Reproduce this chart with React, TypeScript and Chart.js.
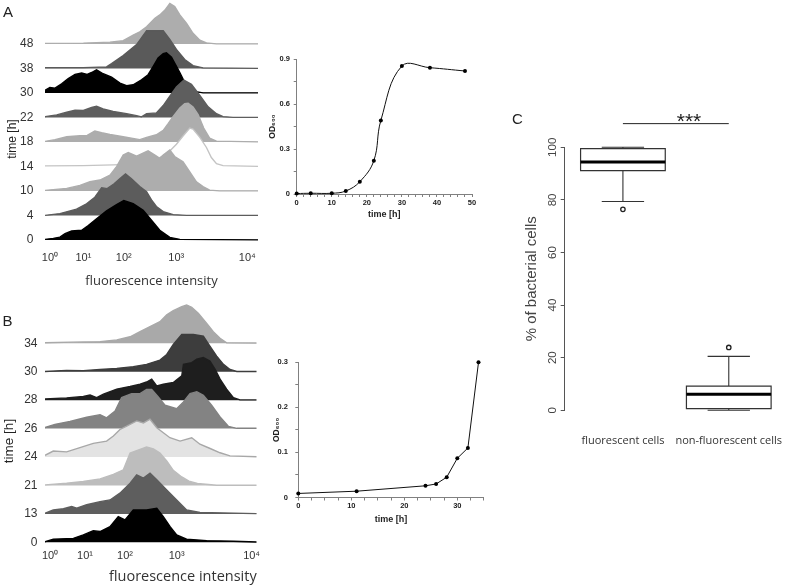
import React, { useEffect, useRef } from 'react';
import { Chart, registerables } from 'chart.js';

Chart.register(...registerables);

const SANS = "'Liberation Sans', Arial, sans-serif";
const NARROW = "'Liberation Sans Narrow', 'Liberation Sans', Arial, sans-serif";
const UI = "'Open Sans', 'Liberation Sans', sans-serif";

// ---------------- Panel A : fluorescence histograms (channel 0-100, height in row units) ----------------
const A_TIMES = ['0', '4', '10', '14', '18', '22', '30', '38', '48'];
const A_T0 = [[0,0.03],[3.9,0.07],[7.0,0.12],[9.4,0.26],[12.5,0.37],[17.2,0.40],[20.3,0.59],[24.2,0.87],[28.9,1.19],[33.6,1.45],[37.0,1.62],[41.4,1.49],[46.1,1.22],[50,0.81],[53.9,0.40],[58.6,0.11],[63.3,0.03],[100,0.01]];
const A_T4 = [[0,0.01],[7.0,0.08],[14.8,0.26],[19.5,0.48],[23.4,0.75],[26.6,1.14],[29.2,1.1],[32.3,1.29],[35.5,1.53],[37.8,1.70],[40.6,1.50],[44.5,1.19],[47.7,0.97],[50,0.64],[52.3,0.37],[55.5,0.16],[60.2,0.04],[66.4,0.01],[100,0.01]];
const A_T10 = [[0,0.03],[10.2,0.11],[16.4,0.23],[21.1,0.38],[25.8,0.45],[30.5,0.65],[33.6,1.0],[36.7,1.47],[39.1,1.57],[43,1.43],[48.4,1.64],[51.6,1.47],[53.9,1.34],[55.5,1.47],[58.6,1.68],[60.9,1.41],[64.8,1.2],[67.9,0.79],[71.1,0.38],[74.2,0.18],[77.3,0.04],[82,0.01],[100,0.01]];
const A_T14 = [[0,0.03],[18,0.04],[32,0.07],[41.4,0.1],[50.8,0.23],[55.5,0.44],[58.6,0.64],[61.7,0.91],[64.8,1.25],[68,1.57],[69.5,1.53],[72.7,1.19],[75.8,0.78],[78.1,0.37],[80.5,0.12],[83.6,0.04],[100,0.01]];
const A_T18 = [[0,0.03],[4.7,0.1],[10.2,0.22],[16.4,0.26],[19.8,0.27],[23.4,0.45],[26.6,0.38],[30.5,0.31],[36.7,0.22],[44.5,0.1],[47.7,0.19],[52.3,0.3],[55.5,0.48],[57.8,0.75],[60.2,1.05],[63.3,1.39],[65.6,1.57],[67.2,1.59],[69.5,1.43],[71.9,1.12],[74.5,0.57],[77.3,0.16],[80.5,0.04],[100,0.01]];
const A_T22 = [[0,0.04],[5.5,0.11],[10.2,0.22],[14.1,0.3],[18,0.29],[21.9,0.41],[24.2,0.46],[27.3,0.35],[32,0.25],[38.3,0.16],[43,0.08],[45.3,0.03],[47.7,0.16],[52.3,0.19],[55.5,0.49],[58.6,0.87],[61.7,1.25],[65.2,1.53],[68.75,1.36],[72.7,0.9],[76.6,0.44],[80.5,0.16],[83.6,0.04],[88.3,0.01],[100,0.01]];
const A_T30 = [[0,0.11],[2.3,0.23],[4.7,0.2],[7.8,0.38],[10.9,0.59],[14.1,0.76],[17.2,0.82],[19.8,0.76],[21.9,0.84],[24.2,0.95],[27.3,0.79],[31.25,0.65],[35.2,0.41],[38.3,0.3],[41.4,0.34],[45.3,0.54],[48.4,0.75],[50.8,1.09],[53.1,1.43],[55.5,1.61],[57,1.65],[59.4,1.47],[63.3,0.84],[66.4,0.3],[69.5,0.08],[74.2,0.01],[100,0.01]];
const A_T38 = [[0,0.04],[18,0.04],[28.9,0.07],[31.25,0.2],[36.7,0.53],[43,0.98],[47.7,1.55],[55.5,1.55],[58.6,1.19],[61.7,0.78],[65.6,0.37],[69.5,0.12],[74.2,0.03],[100,0.01]];
const A_T48 = [[0,0.03],[18,0.04],[30.5,0.08],[36.7,0.14],[41.4,0.37],[44.5,0.5],[47.7,0.71],[51.6,1.05],[53.9,1.19],[56.3,1.39],[58.6,1.66],[60.9,1.53],[63.3,1.19],[66.4,0.85],[69.5,0.44],[72.7,0.16],[75.8,0.05],[80.5,0.01],[100,0.01]];
const A_ROWS = [A_T0, A_T4, A_T10, A_T14, A_T18, A_T22, A_T30, A_T38, A_T48];
const A_FILL = ['#000000', '#5c5c5c', '#adadad', '#ffffff', '#adadad', '#5e5e5e', '#000000', '#5a5a5a', '#adadad'];
const A_LINE = ['#000000', '#5c5c5c', '#adadad', '#c4c4c4', '#adadad', '#5e5e5e', '#000000', '#5a5a5a', '#adadad'];

// ---------------- Panel B : fluorescence histograms ----------------
const B_TIMES = ['0', '13', '21', '24', '26', '28', '30', '34'];
const B_T0 = [[0,0.02],[3.9,0.11],[13.4,0.14],[18.1,0.26],[22.8,0.41],[26,0.38],[30.7,0.55],[34.6,0.9],[37.8,0.79],[41.7,1.14],[48,1.14],[52.8,1.2],[55.9,0.9],[59.1,0.55],[62.2,0.26],[66.9,0.11],[76.4,0.06],[89,0.04],[100,0.01]];
const B_T13 = [[0,0.02],[3.9,0.14],[8.7,0.18],[12.6,0.26],[15,0.2],[19.7,0.32],[26,0.43],[30.7,0.49],[35.4,0.73],[40.2,1.08],[43.3,1.37],[46.5,1.26],[49.6,1.43],[52.8,1.2],[57.5,0.84],[62.2,0.49],[66.9,0.14],[73.2,0.05],[100,0.01]];
const B_T21 = [[0,0.02],[10.2,0.08],[18.1,0.14],[26,0.23],[32.3,0.39],[37,0.55],[40.2,1.14],[44.9,1.27],[48,1.35],[51.2,1.29],[54.3,1.14],[57.5,0.86],[60.6,0.53],[64.6,0.3],[68,0.15],[72,0.07],[81.1,0.01],[100,0.01]];
const B_T24 = [[0,0.06],[3.9,0.21],[10.2,0.18],[16.5,0.33],[22.8,0.48],[29.1,0.56],[32.3,0.74],[35.4,0.97],[38.6,1.09],[43.3,1.27],[46.5,1.2],[49.6,1.33],[52.8,1.03],[59,0.68],[63.8,0.56],[69.3,0.68],[73.2,0.45],[78,0.3],[82.7,0.15],[87.4,0.04],[100,0.01]];
const B_T26 = [[0,0.04],[4.7,0.15],[11.8,0.25],[19.7,0.40],[26,0.49],[29.1,0.38],[33.1,0.62],[36.2,1.09],[40.9,1.23],[44.9,1.23],[48,1.38],[50.4,1.38],[53.5,1.11],[56.7,0.82],[62.2,0.7],[65.4,0.94],[68.5,1.23],[71.7,1.30],[74.8,1.17],[78.7,0.82],[82.7,0.41],[86.6,0.08],[90.6,0.01],[100,0.01]];
const B_T28 = [[0,0.04],[10.2,0.08],[18.1,0.13],[21.3,0.18],[24.4,0.09],[27.6,0.21],[33.9,0.39],[40.2,0.48],[44.9,0.56],[48,0.64],[50.4,0.74],[52.8,0.5],[55.9,0.56],[60.6,0.62],[64.6,0.86],[65.4,1.26],[69.3,1.32],[71.7,1.44],[74.8,1.5],[77.9,1.38],[80.3,1.09],[82.7,0.74],[85.8,0.39],[89,0.09],[92.1,0.01],[100,0.01]];
const B_T30 = [[0,0.01],[10.2,0.05],[18.1,0.04],[26,0.08],[33.9,0.12],[41.7,0.18],[48,0.26],[54.3,0.41],[57.5,0.61],[60.6,0.96],[64.6,1.31],[70.1,1.31],[74.8,1.25],[77.9,0.9],[81.1,0.55],[84.3,0.26],[87.4,0.08],[90.6,0.01],[100,0.01]];
const B_T34 = [[0,0.02],[18.1,0.05],[26,0.06],[33.9,0.12],[40.2,0.23],[44.9,0.41],[49.6,0.59],[54.3,0.76],[57.5,1],[60.6,1.15],[64.6,1.29],[66.9,1.35],[69.3,1.27],[72.4,1.06],[76.4,0.7],[79.5,0.41],[82.7,0.18],[85.8,0.02],[100,0.01]];
const B_ROWS = [B_T0, B_T13, B_T21, B_T24, B_T26, B_T28, B_T30, B_T34];
const B_FILL = ['#000000', '#5e5e5e', '#bdbdbd', '#e3e3e3', '#838383', '#1e1e1e', '#3d3d3d', '#a9a9a9'];
const B_LINE = ['#000000', '#5e5e5e', '#bdbdbd', '#a8a8a8', '#838383', '#1e1e1e', '#3d3d3d', '#a9a9a9'];

const X_TICK_LABELS = ['10\u2070', '10\u00B9', '10\u00B2', '10\u00B3', '10\u2074'];
const A_X_TICK_POS = [2.3, 18, 37, 61.6, 95];
const B_X_TICK_POS = [2.4, 18.9, 37.8, 62.2, 97.6];

// ---------------- Growth curves ----------------
const GA_TIME = [0, 4, 10, 14, 18, 22, 24, 30, 38, 48];
const GA_OD = [0.003, 0.005, 0.005, 0.02, 0.082, 0.222, 0.49, 0.853, 0.842, 0.82];
const GB_TIME = [0, 11, 24, 26, 28, 30, 32, 34];
const GB_OD = [0.009, 0.014, 0.026, 0.03, 0.045, 0.087, 0.11, 0.3];
const GA_XTICKS = Array.from({ length: 26 }, (_, i) => i * 2);
const GA_YTICKS = [0, 0.15, 0.3, 0.45, 0.6, 0.75, 0.9];
const GB_XTICKS = Array.from({ length: 15 }, (_, i) => i * 2.5);
const GB_YTICKS = [0, 0.05, 0.1, 0.15, 0.2, 0.25, 0.3];

// ---------------- Panel C : box plot ----------------
const C_CATEGORIES = ['fluorescent cells', 'non-fluorescent cells'];
const C_POS = [1, 2];
const C_Q1 = [91.1, 0.6];
const C_MEDIAN = [94.4, 6.1];
const C_Q3 = [99.5, 9.2];
const C_WHISK_LO = [79.4, 0];
const C_WHISK_HI = [100, 20.5];
const C_OUTLIERS = [[76.4], [23.9]];
const C_YTICKS = [0, 20, 40, 60, 80, 100];
const C_SIG_Y = 109;

const zeroPad = (s: any) => {
  s.paddingLeft = 0;
  s.paddingRight = 0;
  s.paddingTop = 0;
  s.paddingBottom = 0;
};

const base = {
  responsive: false,
  animation: false,
  devicePixelRatio: 1,
  events: [],
};

function ridgeConfig(p: any): any {
  return {
    type: 'line',
    data: {
      datasets: p.rows.map((pts: number[][], i: number) => ({
        data: pts.map(([x, h]) => ({ x, y: i + h })),
        fill: { value: i },
        backgroundColor: p.fills[i],
        borderColor: p.lines[i],
        borderWidth: 1.4,
        pointRadius: 0,
        tension: 0,
      })),
    },
    options: {
      ...base,
      layout: { padding: { left: 0, top: 0, right: p.padRight, bottom: 0 } },
      plugins: { legend: { display: false }, tooltip: { enabled: false } },
      scales: {
        x: {
          type: 'linear',
          min: 0,
          max: 100,
          afterBuildTicks: (s: any) => {
            s.ticks = p.tickPos.map((v: number) => ({ value: v }));
          },
          afterFit: (s: any) => {
            s.height = p.xH;
            zeroPad(s);
          },
          grid: { display: false, drawTicks: false },
          border: { display: false },
          ticks: {
            autoSkip: false,
            maxRotation: 0,
            padding: p.xLabPad,
            font: { family: NARROW, size: p.tickSize },
            color: '#333',
            callback: (_v: any, i: number) => X_TICK_LABELS[i],
          },
          title: {
            display: true,
            text: 'fluorescence intensity',
            align: p.xTitleAlign,
            font: { family: UI, size: p.xTitleSize },
            color: '#333',
            padding: { top: 0, bottom: p.xTitlePad },
          },
        },
        y: {
          type: 'linear',
          min: p.yMin,
          max: p.yMax,
          afterBuildTicks: (s: any) => {
            s.ticks = p.labels.map((_l: string, i: number) => ({ value: i }));
          },
          afterFit: (s: any) => {
            s.width = p.yW;
            zeroPad(s);
          },
          grid: { display: false, drawTicks: false },
          border: { display: false },
          ticks: {
            autoSkip: false,
            padding: p.yLabPad,
            font: { family: NARROW, size: p.labSize },
            color: '#333',
            callback: (_v: any, i: number) => p.labels[i],
          },
        },
      },
    },
  };
}

const AXIS = '#808080';

function growthConfig(p: any): any {
  const fmt = (v: number) => (v === 0 ? '0' : v.toFixed(1));
  return {
    type: 'line',
    data: {
      datasets: [
        {
          data: p.t.map((t: number, i: number) => ({ x: t, y: p.od[i] })),
          borderColor: '#111',
          borderWidth: 1,
          pointRadius: 2,
          pointBackgroundColor: '#000',
          pointBorderColor: '#000',
          pointBorderWidth: 0,
          tension: p.tension,
          fill: false,
          clip: false,
        },
      ],
    },
    options: {
      ...base,
      layout: { padding: { left: 0, top: p.padTop, right: p.padRight, bottom: 0 } },
      plugins: { legend: { display: false }, tooltip: { enabled: false } },
      scales: {
        x: {
          type: 'linear',
          min: 0,
          max: p.xMax,
          afterBuildTicks: (s: any) => {
            s.ticks = p.xTicks.map((v: number) => ({ value: v }));
          },
          afterFit: (s: any) => {
            s.height = p.xH;
            zeroPad(s);
          },
          grid: { display: true, drawOnChartArea: false, drawTicks: true, tickLength: 3, color: AXIS },
          border: { display: true, color: AXIS, width: 1 },
          ticks: {
            autoSkip: false,
            maxRotation: 0,
            padding: p.xLabPad,
            font: { family: SANS, size: 7.5, weight: 'bold' },
            color: '#222',
            callback: (v: number) => (Math.abs(v % 10) < 1e-9 ? String(v) : ''),
          },
          title: {
            display: true,
            text: 'time [h]',
            font: { family: SANS, size: 9, weight: 'bold' },
            color: '#222',
            padding: { top: 0, bottom: p.xTitlePad },
          },
        },
        y: {
          type: 'linear',
          min: 0,
          max: p.yMax,
          afterBuildTicks: (s: any) => {
            s.ticks = p.yTicks.map((v: number) => ({ value: v }));
          },
          afterFit: (s: any) => {
            s.width = p.yW;
            zeroPad(s);
          },
          grid: { display: true, drawOnChartArea: false, drawTicks: true, tickLength: 3, color: AXIS },
          border: { display: true, color: AXIS, width: 1 },
          ticks: {
            autoSkip: false,
            padding: p.yLabPad,
            font: { family: SANS, size: 7.5, weight: 'bold' },
            color: '#222',
            callback: (v: number) => {
              const k = v / p.yMajor;
              return Math.abs(k - Math.round(k)) < 1e-6 ? fmt(v) : '';
            },
          },
          title: {
            display: true,
            text: 'OD\u2086\u2080\u2080',
            font: { family: "'Liberation Sans', 'DejaVu Sans', sans-serif", size: 8.5, weight: 'bold' },
            color: '#222',
            padding: { top: p.yTitlePad, bottom: 0 },
          },
        },
      },
    },
  };
}

function boxConfig(): any {
  const BOX_HALF = 0.4;
  const CAP_HALF = 0.2;
  const gap = { x: 0, y: null };
  const boxPts: any[] = [];
  const medPts: any[] = [];
  const whiskPts: any[] = [];
  const outPts: any[] = [];
  C_POS.forEach((c, i) => {
    boxPts.push(
      { x: c - BOX_HALF, y: C_Q1[i] },
      { x: c + BOX_HALF, y: C_Q1[i] },
      { x: c + BOX_HALF, y: C_Q3[i] },
      { x: c - BOX_HALF, y: C_Q3[i] },
      { x: c - BOX_HALF, y: C_Q1[i] },
      { ...gap, x: c }
    );
    medPts.push({ x: c - BOX_HALF, y: C_MEDIAN[i] }, { x: c + BOX_HALF, y: C_MEDIAN[i] }, { ...gap, x: c });
    whiskPts.push(
      { x: c, y: C_Q3[i] }, { x: c, y: C_WHISK_HI[i] }, { ...gap, x: c },
      { x: c, y: C_Q1[i] }, { x: c, y: C_WHISK_LO[i] }, { ...gap, x: c },
      { x: c - CAP_HALF, y: C_WHISK_HI[i] }, { x: c + CAP_HALF, y: C_WHISK_HI[i] }, { ...gap, x: c },
      { x: c - CAP_HALF, y: C_WHISK_LO[i] }, { x: c + CAP_HALF, y: C_WHISK_LO[i] }, { ...gap, x: c }
    );
    C_OUTLIERS[i].forEach((o) => outPts.push({ x: c, y: o }));
  });
  const lineDs = (data: any[], width: number, color: string) => ({
    data,
    showLine: true,
    spanGaps: false,
    borderColor: color,
    borderWidth: width,
    pointRadius: 0,
    tension: 0,
    fill: false,
    clip: false,
  });
  return {
    type: 'scatter',
    data: {
      datasets: [
        { ...lineDs(medPts, 3, '#000'), borderCapStyle: 'butt' },
        { ...lineDs(boxPts, 1.2, '#333'), borderCapStyle: 'square', borderJoinStyle: 'miter' },
        lineDs(whiskPts, 1.1, '#333'),
        lineDs([{ x: C_POS[0], y: C_SIG_Y }, { x: C_POS[1], y: C_SIG_Y }], 1, '#222'),
        {
          data: outPts,
          showLine: false,
          pointRadius: 2.2,
          pointBorderWidth: 1.3,
          pointBorderColor: '#222',
          pointBackgroundColor: '#fff',
          clip: false,
        },
      ],
    },
    options: {
      ...base,
      layout: { padding: { left: 0, top: 47.3, right: 0, bottom: 0 } },
      plugins: { legend: { display: false }, tooltip: { enabled: false } },
      scales: {
        x: {
          type: 'linear',
          min: 0.45,
          max: 2.5,
          afterBuildTicks: (s: any) => {
            s.ticks = C_POS.map((v) => ({ value: v }));
          },
          afterFit: (s: any) => {
            s.height = 44.7;
            zeroPad(s);
          },
          grid: { display: false, drawTicks: false },
          border: { display: false },
          ticks: {
            autoSkip: false,
            maxRotation: 0,
            padding: 24.4,
            font: { family: UI, size: 11 },
            color: '#333',
            callback: (_v: any, i: number) => C_CATEGORIES[i],
          },
        },
        y: {
          type: 'linear',
          min: 0,
          max: 100,
          afterBuildTicks: (s: any) => {
            s.ticks = C_YTICKS.map((v) => ({ value: v }));
          },
          afterFit: (s: any) => {
            s.width = 46.7;
            zeroPad(s);
          },
          grid: { display: true, drawOnChartArea: false, drawTicks: true, tickLength: 4, color: '#555' },
          border: { display: true, color: '#555', width: 1 },
          ticks: {
            autoSkip: false,
            minRotation: 90,
            maxRotation: 90,
            crossAlign: 'center',
            padding: -2.2,
            font: { family: SANS, size: 11.5 },
            color: '#444',
            callback: (v: number) => String(v),
          },
          title: {
            display: true,
            text: '% of bacterial cells',
            font: { family: SANS, size: 15 },
            color: '#444',
            padding: { top: 4.7, bottom: 0 },
          },
        },
      },
    },
  };
}

function ChartCanvas({ left, top, width, height, make }: any) {
  const ref = useRef<HTMLCanvasElement>(null);
  useEffect(() => {
    const chart = new Chart(ref.current as HTMLCanvasElement, make());
    return () => chart.destroy();
  }, []);
  return (
    <canvas
      ref={ref}
      width={width}
      height={height}
      style={{ position: 'absolute', left, top, width, height }}
    />
  );
}

function Txt({ x, y, size, children, rotate, family, center }: any) {
  const style: any = {
    position: 'absolute',
    left: x,
    top: y,
    fontFamily: family || SANS,
    fontSize: size,
    lineHeight: `${size}px`,
    color: '#222',
    whiteSpace: 'nowrap',
  };
  if (rotate) style.transform = 'translate(-50%, -50%) rotate(-90deg)';
  else if (center) style.transform = 'translateX(-50%)';
  return <div style={style}>{children}</div>;
}

export default function App() {
  return (
    <div
      style={{
        position: 'absolute',
        left: 0,
        top: 0,
        width: 787,
        height: 588,
        background: '#fff',
        overflow: 'hidden',
      }}
    >
      <ChartCanvas
        left={0}
        top={0}
        width={262}
        height={295}
        make={() =>
          ridgeConfig({
            rows: A_ROWS,
            labels: A_TIMES,
            fills: A_FILL,
            lines: A_LINE,
            tickPos: A_X_TICK_POS,
            yMin: -0.25,
            yMax: 9.8,
            yW: 45,
            xH: 48.8,
            padRight: 4,
            yLabPad: 11.7,
            labSize: 12,
            tickSize: 11,
            xLabPad: 5.5,
            xTitleSize: 13,
            xTitlePad: 6.2,
            xTitleAlign: 'center',
          })
        }
      />
      <ChartCanvas
        left={0}
        top={295}
        width={262}
        height={293}
        make={() =>
          ridgeConfig({
            rows: B_ROWS,
            labels: B_TIMES,
            fills: B_FILL,
            lines: B_LINE,
            tickPos: B_X_TICK_POS,
            yMin: -0.2,
            yMax: 8.7,
            yW: 45,
            xH: 40,
            padRight: 5.3,
            yLabPad: 7.5,
            labSize: 12,
            tickSize: 11,
            xLabPad: 1.7,
            xTitleSize: 14.5,
            xTitlePad: 2.6,
            xTitleAlign: 'end',
          })
        }
      />
      <ChartCanvas
        left={264}
        top={52}
        width={216}
        height={172}
        make={() =>
          growthConfig({
            t: GA_TIME,
            od: GA_OD,
            tension: 0.4,
            xMax: 50,
            yMax: 0.9,
            xTicks: GA_XTICKS,
            yTicks: GA_YTICKS,
            yMajor: 0.3,
            padTop: 7,
            padRight: 8,
            yW: 32.7,
            xH: 30,
            xLabPad: 1.5,
            xTitlePad: 3.6,
            yLabPad: 3.7,
            yTitlePad: 3.6,
          })
        }
      />
      <ChartCanvas
        left={264}
        top={355}
        width={226}
        height={172}
        make={() =>
          growthConfig({
            t: GB_TIME,
            od: GB_OD,
            tension: 0,
            xMax: 35,
            yMax: 0.3,
            xTicks: GB_XTICKS,
            yTicks: GB_YTICKS,
            yMajor: 0.1,
            padTop: 7.3,
            padRight: 6.2,
            yW: 34.3,
            xH: 29.5,
            xLabPad: 1,
            xTitlePad: 1.6,
            yLabPad: 7.3,
            yTitlePad: 7.6,
          })
        }
      />
      <ChartCanvas left={518} top={100} width={269} height={355} make={boxConfig} />

      <Txt x={3} y={4} size={15}>A</Txt>
      <Txt x={2.5} y={313} size={15}>B</Txt>
      <Txt x={512} y={110.7} size={15}>C</Txt>
      <Txt x={689} y={110} size={21} center>***</Txt>
      <Txt x={11.7} y={139} size={12} rotate>time [h]</Txt>
      <Txt x={9.2} y={440.6} size={13.5} rotate>time [h]</Txt>
    </div>
  );
}
